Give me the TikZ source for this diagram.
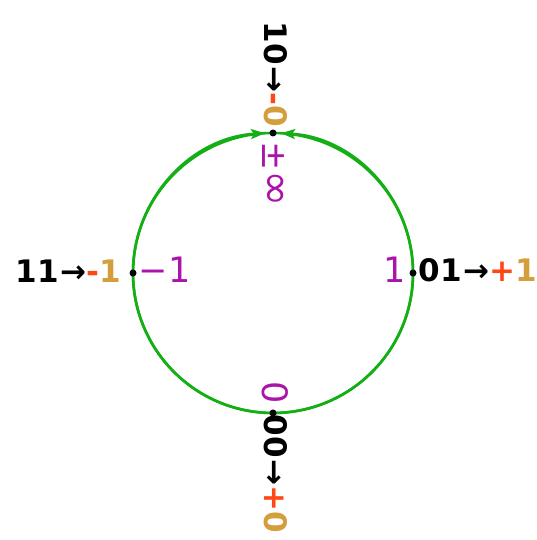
\documentclass[tikz,border=0pt]{standalone}
\usepackage{fontspec}
\setmainfont{DejaVu Sans}
\newfontfamily\labfont[LetterSpace=3]{DejaVu Sans Bold}
\newfontfamily\purfont[LetterSpace=4]{DejaVu Sans}
\usetikzlibrary{arrows.meta,calc}
\definecolor{cgreen}{RGB}{20,175,20}
\definecolor{cpurple}{RGB}{170,20,170}
\definecolor{cred}{RGB}{255,70,20}
\definecolor{cgold}{RGB}{212,158,60}
\tikzset{
  dot/.style={circle, fill=black, inner sep=0pt, minimum size=7pt},
  blk/.style={inner sep=0pt, font=\labfont\fontsize{31}{34}\selectfont},
  pur/.style={inner sep=0pt, text=cpurple, font=\purfont\fontsize{35}{38}\selectfont},
  ring/.style={cgreen, line width=2.6pt},
  tip/.style={-{Stealth[length=14pt,width=10pt,inset=3pt]}},
}
\newcommand{\rd}[1]{\textcolor{cred}{#1}}
\newcommand{\gd}[1]{\textcolor{cgold}{#1}}
\begin{document}
\begin{tikzpicture}[x=1pt,y=1pt]
\useasboundingbox (0,0) rectangle (536,540);
\coordinate (c) at (273,267);
\draw[ring] (c) circle (140);
\draw[ring, tip] ($(c)+(270:140)$) arc[start angle=270, end angle=93.3, radius=140];
\draw[ring, tip] ($(c)+(-90:140)$) arc[start angle=-90, end angle=86.7, radius=140];
\node[dot] (ptop) at (273,407) {};
\node[dot] (pbot) at (273,127) {};
\node[dot] (pleft) at (133,267) {};
\node[dot] (pright) at (413,267) {};
% top
\node[blk, rotate=-90, anchor=east] (ltop) at (276,413) {10→\rd{-}\gd{0}};
\node[pur, rotate=-90, anchor=west] (vtop) at (273,399) {±\scalebox{1.25}{∞}};
% bottom
\node[pur, rotate=-90, anchor=center] (vbot) at (275,147) {0};
\node[blk, rotate=-90, anchor=west] (lbot) at (276,126) {00→\rd{+}\gd{0}};
% left
\node[blk, anchor=base east] (lleft) at (121,257) {11→\rd{-}\gd{1}};
\node[pur, anchor=base west] (vleft) at (138,257) {−1};
% right
\node[pur, anchor=base east] (vright) at (406,257) {1};
\node[blk, anchor=base west] (lright) at (418,258) {01→\rd{+}\gd{1}};
\end{tikzpicture}
\end{document}
